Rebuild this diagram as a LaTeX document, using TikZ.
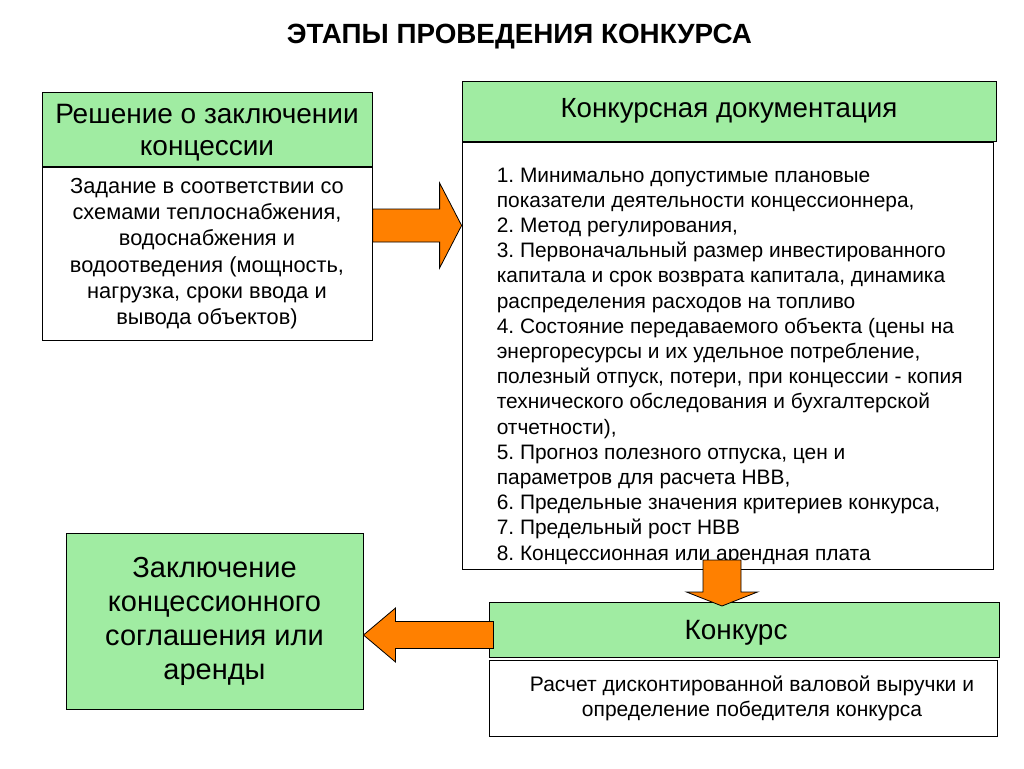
\documentclass[tikz,border=0pt]{standalone}
\usepackage{fontspec}
\setmainfont{Liberation Sans}
\usetikzlibrary{positioning}
\definecolor{boxgreen}{RGB}{160,236,162}
\definecolor{arroworange}{RGB}{255,128,0}
\frenchspacing

\begin{document}
\begin{tikzpicture}
[
  x=1pt, y=-1pt,
  greenbox/.style = {draw, fill=boxgreen, line width=1pt, inner sep=0pt, align=center},
  whitebox/.style = {draw, fill=white, line width=0.8pt, inner sep=0pt, align=center},
  blockarrow/.style = {draw, fill=arroworange, line width=0.8pt, line join=miter},
]
\useasboundingbox[fill=white] (0,0) rectangle (1024,768);

%title
\node[font=\bfseries\fontsize{27.8}{32}\selectfont] (title) at (519.5,37) {ЭТАПЫ ПРОВЕДЕНИЯ КОНКУРСА};

%left column
\node[greenbox, minimum width=330, minimum height=74] (decision) at (207,129) {};
\node[inner sep=0pt, align=center, font=\fontsize{28}{32}\selectfont, yshift=-4pt]
  (dectext) at (decision.center) {Решение о заключении\\концессии};
\node[whitebox, minimum width=330, minimum height=173, font=\fontsize{21.8}{26.3}\selectfont]
  (task) at (207,253.5) {Задание в соответствии со\\схемами теплоснабжения,\\водоснабжения и\\водоотведения (мощность,\\нагрузка, сроки ввода и\\вывода объектов)};
\node[greenbox, minimum width=297, minimum height=176, font=\fontsize{29}{34}\selectfont]
  (agree) at (214.5,621) {Заключение\\концессионного\\соглашения или\\аренды};

%right column
\node[greenbox, minimum width=534, minimum height=60, font=\fontsize{27.7}{32}\selectfont]
  (dochead) at (729,111) {Конкурсная документация};
\node[whitebox, minimum width=531, minimum height=427] (doc) at (727.5,355.5) {};
\node[anchor=north west, inner sep=0pt, align=left, font=\fontsize{20.9}{25.2}\selectfont,
  xshift=35pt, yshift=-26pt] (doclist) at (doc.north west)
  {1. Минимально допустимые плановые\\
   показатели деятельности концессионнера,\\
   2. Метод регулирования,\\
   3. Первоначальный размер инвестированного\\
   капитала и срок возврата капитала, динамика\\
   распределения расходов на топливо\\
   4. Состояние передаваемого объекта (цены на\\
   энергоресурсы и их удельное потребление,\\
   полезный отпуск, потери, при концессии - копия\\
   технического обследования и бухгалтерской\\
   отчетности),\\
   5. Прогноз полезного отпуска, цен и\\
   параметров для расчета НВВ,\\
   6. Предельные значения критериев конкурса,\\
   7. Предельный рост НВВ\\
   8. Концессионная или арендная плата};
\node[greenbox, minimum width=510, minimum height=55] (contest) at (744,629.5) {};
\node[inner sep=0pt, font=\fontsize{27.9}{32}\selectfont, xshift=-8pt, yshift=-3pt]
  (contesttext) at (contest.center) {Конкурс};
\node[whitebox, minimum width=508, minimum height=76] (calc) at (743,698) {};
\node[inner sep=0pt, align=center, font=\fontsize{21}{25}\selectfont, xshift=9pt]
  (calctext) at (calc.center) {Расчет дисконтированной валовой выручки и\\определение победителя конкурса};

%arrows
\coordinate (ratip) at (doc.west |- 0,225.5);
\coordinate (datip) at (722,606);
\coordinate (latip) at (agree.east |- 0,635);

\draw[blockarrow] (ratip) -- ++(-22,-42.5) -- ++(0,26) -- ++(-67,0) -- ++(0,33)
  -- ++(67,0) -- ++(0,26) -- cycle;
\draw[blockarrow] (datip) -- ++(-35.5,-14) -- ++(16.5,0) -- ++(0,-32) -- ++(38,0)
  -- ++(0,32) -- ++(16.5,0) -- cycle;
\draw[blockarrow] (latip) -- ++(32,-27) -- ++(0,13.5) -- ++(98,0) -- ++(0,27)
  -- ++(-98,0) -- ++(0,13.5) -- cycle;
\end{tikzpicture}
\end{document}
